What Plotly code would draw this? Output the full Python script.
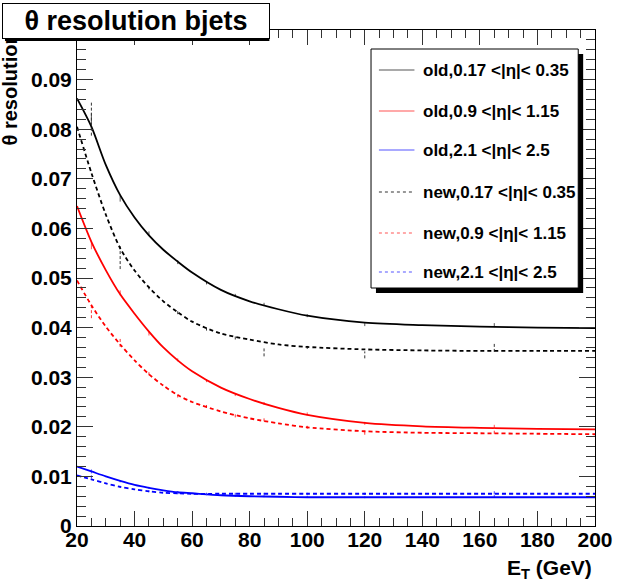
import plotly.graph_objects as go

# Fitted resolution curves, sampled along E_T (GeV)
ET = [20, 25, 30, 35, 40, 45, 50, 55, 60, 70, 80, 90, 100, 120, 140, 160, 180, 200]
old_central = [0.0862, 0.0805, 0.0728, 0.0667, 0.0622, 0.0586, 0.0557, 0.0533, 0.0511, 0.0476,
               0.0453, 0.0437, 0.0424, 0.0410, 0.0405, 0.0402, 0.0400, 0.0399]
old_mid = [0.0645, 0.0573, 0.0516, 0.0467, 0.0428, 0.0392, 0.0360, 0.0334, 0.0312, 0.0279,
           0.0256, 0.0238, 0.0224, 0.0208, 0.0201, 0.0198, 0.0196, 0.0195]
old_fwd = [0.0120, 0.0110, 0.0100, 0.0091, 0.0083, 0.0077, 0.0072, 0.0068, 0.0066, 0.0062,
           0.0060, 0.0059, 0.0058, 0.0058, 0.0058, 0.0058, 0.0058, 0.0058]
new_central = [0.0805, 0.0712, 0.0628, 0.0560, 0.0515, 0.0481, 0.0453, 0.0431, 0.0412, 0.0388,
               0.0376, 0.0366, 0.0361, 0.0356, 0.0354, 0.0353, 0.0353, 0.0353]
new_mid = [0.0495, 0.0445, 0.0402, 0.0366, 0.0334, 0.0306, 0.0283, 0.0264, 0.0250, 0.0231,
           0.0217, 0.0207, 0.0199, 0.0191, 0.0188, 0.0187, 0.0186, 0.0185]
new_fwd = [0.0102, 0.0094, 0.0086, 0.0079, 0.0074, 0.0070, 0.0067, 0.0066, 0.0065, 0.0065,
           0.0065, 0.0065, 0.0065, 0.0065, 0.0065, 0.0065, 0.0065, 0.0065]

# Binned measurements (bin centres) with their uncertainties
ET_bins = [25, 35, 45, 55, 65, 75, 85, 100, 120, 165]
pts_old_central = [0.0815, 0.0660, 0.0590, 0.0532, 0.0490, 0.0465, 0.0447, 0.0424, 0.0406, 0.0405]
err_old_central = [0.0017, 0.0006, 0.0004, 0.0004, 0.0003, 0.0003, 0.0003, 0.0003, 0.0003, 0.0004]
pts_new_central = [0.0822, 0.0541, 0.0482, 0.0432, 0.0398, 0.0380, 0.0350, 0.0361, 0.0345, 0.0360]
err_new_central = [0.0035, 0.0023, 0.0005, 0.0005, 0.0004, 0.0004, 0.0008, 0.0004, 0.0007, 0.0009]
pts_old_mid = [0.0565, 0.0470, 0.0388, 0.0335, 0.0293, 0.0265, 0.0247, 0.0226, 0.0207, 0.0200]
err_old_mid = [0.0007, 0.0005, 0.0004, 0.0003, 0.0003, 0.0003, 0.0003, 0.0003, 0.0003, 0.0004]
pts_new_mid = [0.0432, 0.0370, 0.0308, 0.0263, 0.0241, 0.0222, 0.0214, 0.0199, 0.0189, 0.0192]
err_new_mid = [0.0013, 0.0009, 0.0004, 0.0004, 0.0003, 0.0003, 0.0003, 0.0003, 0.0005, 0.0006]
pts_old_fwd = [0.0110, 0.0090, 0.0077, 0.0068, 0.0064, 0.0061, 0.0060, 0.0059, 0.0058, 0.0060]
err_old_fwd = [0.0004, 0.0002, 0.0002, 0.0002, 0.0002, 0.0002, 0.0002, 0.0002, 0.0002, 0.0003]
pts_new_fwd = [0.0100, 0.0079, 0.0070, 0.0066, 0.0065, 0.0065, 0.0065, 0.0065, 0.0065, 0.0067]
err_new_fwd = [0.0004, 0.0002, 0.0002, 0.0002, 0.0002, 0.0002, 0.0002, 0.0002, 0.0002, 0.0003]

labels = ["old,0.17 <|η|< 0.35", "old,0.9 <|η|< 1.15", "old,2.1 <|η|< 2.5",
          "new,0.17 <|η|< 0.35", "new,0.9 <|η|< 1.15", "new,2.1 <|η|< 2.5"]

x_ticks = [20, 40, 60, 80, 100, 120, 140, 160, 180, 200]
y_ticks = [0, 0.01, 0.02, 0.03, 0.04, 0.05, 0.06, 0.07, 0.08, 0.09]
y_ticklabels = ["0", "0.01", "0.02", "0.03", "0.04", "0.05", "0.06", "0.07", "0.08", "0.09"]

FONT = "Liberation Sans, Arial, Helvetica, sans-serif"
W, H = 625, 584
L, R, T, B = 77, 23, 30, 58
PW, PH = W - L - R, H - T - B


def px(x):
    return (x - L) / PW


def py(y):
    return (H - B - y) / PH


series = [
    (old_central, pts_old_central, err_old_central, "#000000", "#555555", "solid"),
    (old_mid, pts_old_mid, err_old_mid, "#ff0000", "#ff5555", "solid"),
    (old_fwd, pts_old_fwd, err_old_fwd, "#0000ff", "#5555ff", "solid"),
    (new_central, pts_new_central, err_new_central, "#000000", "#333333", "4px,3px"),
    (new_mid, pts_new_mid, err_new_mid, "#ff0000", "#ff3333", "4px,3px"),
    (new_fwd, pts_new_fwd, err_new_fwd, "#0000ff", "#3333ff", "4px,3px"),
]

fig = go.Figure()
for curve, pts, errs, color, ecolor, dash in series:
    ex, ey = [], []
    for xb, v, e in zip(ET_bins, pts, errs):
        ex += [xb, xb, None]
        ey += [v - e, v + e, None]
    fig.add_trace(go.Scatter(x=ex, y=ey, mode="lines", showlegend=False, hoverinfo="skip",
                             line=dict(color=ecolor, width=1, dash="3px,2px" if dash != "solid" else "solid")))
    fig.add_trace(go.Scatter(x=ET, y=curve, mode="lines", showlegend=False,
                             line=dict(color=color, width=1.8, dash=dash, shape="spline", smoothing=0.8)))

axis_common = dict(
    showgrid=False, zeroline=False, showline=True, linecolor="#000000", linewidth=1,
    mirror="ticks", ticks="inside", tickcolor="#333333", tickwidth=1,
    tickfont=dict(family=FONT, size=21, color="#000000", weight="bold"),
)
fig.update_xaxes(range=[20, 200], tickvals=x_ticks, ticklen=15, ticklabelstandoff=-5,
                 minor=dict(ticks="inside", dtick=5, ticklen=8, tickcolor="#333333"),
                 **axis_common)
fig.update_yaxes(range=[0, 0.1], tickvals=y_ticks, ticktext=y_ticklabels, ticklen=16,
                 minor=dict(ticks="inside", dtick=0.002, ticklen=9, tickcolor="#333333"),
                 **axis_common)

shapes = []
annotations = []

# Axis titles
annotations.append(dict(xref="paper", yref="paper", x=px(601), y=py(569), xanchor="right", yanchor="middle",
                        text="E<sub>T</sub> (GeV)", showarrow=False,
                        font=dict(family=FONT, size=21, color="#000000", weight="bold")))
annotations.append(dict(xref="paper", yref="paper", x=px(9), y=py(30), xanchor="center", yanchor="top",
                        text="θ resolution", textangle=-90, showarrow=False,
                        font=dict(family=FONT, size=20, color="#000000", weight="bold")))

# Title box: shadow shape underneath, white boxed label on top
shapes.append(dict(type="rect", xref="paper", yref="paper", x0=px(4), x1=px(272), y0=py(6), y1=py(41),
                   fillcolor="#000000", line=dict(width=0), layer="above"))
annotations.append(dict(xref="paper", yref="paper", x=px(1), y=py(3), xanchor="left", yanchor="top",
                        text="θ resolution bjets", showarrow=False, width=266, height=34,
                        bgcolor="#ffffff", bordercolor="#000000", borderwidth=1, borderpad=0,
                        font=dict(family=FONT, size=27, color="#000000", weight="bold")))

# Legend box with drop shadow
shapes.append(dict(type="rect", xref="paper", yref="paper", x0=px(380), x1=px(590), y0=py(54), y1=py(293),
                   fillcolor="#000000", line=dict(width=0), layer="above"))
shapes.append(dict(type="rect", xref="paper", yref="paper", x0=px(375), x1=px(585), y0=py(49), y1=py(288),
                   fillcolor="#ffffff", line=dict(color="#000000", width=1), layer="above"))
row_y = [70, 111, 150, 192, 233, 272]
legend_colors = ["#555555", "#ff5555", "#5555ff", "#333333", "#ff5555", "#5555ff"]
legend_dash = ["solid", "solid", "solid", "3px,3px", "3px,3px", "3px,3px"]
for lab, yy, col, ds in zip(labels, row_y, legend_colors, legend_dash):
    shapes.append(dict(type="line", xref="paper", yref="paper", x0=px(383), x1=px(419), y0=py(yy), y1=py(yy),
                       line=dict(color=col, width=1.2, dash=ds), layer="above"))
    annotations.append(dict(xref="paper", yref="paper", x=px(426), y=py(yy), xanchor="left", yanchor="middle",
                            text=lab.replace("<", "&lt;"), showarrow=False,
                            font=dict(family=FONT, size=17, color="#000000", weight="bold")))

fig.update_layout(
    width=W, height=H, margin=dict(l=L, r=R, t=T, b=B),
    paper_bgcolor="#ffffff", plot_bgcolor="#ffffff",
    shapes=shapes, annotations=annotations, showlegend=False,
)

fig.write_html("out.html")
